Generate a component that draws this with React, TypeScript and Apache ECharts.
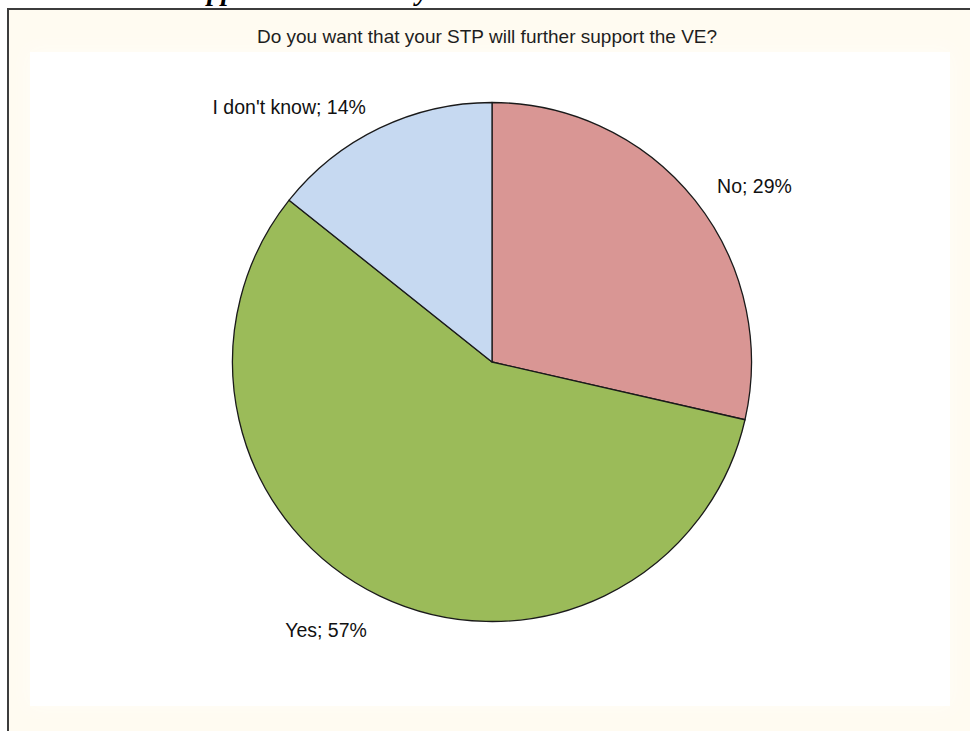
import React, { useEffect, useRef } from "react";
import * as echarts from "echarts";

const TITLE = "Do you want that your STP will further support the VE?";
const CATEGORIES = ["No", "Yes", "I don't know"];
const COUNTS = [2, 4, 1];
const COLORS = ["#D99694", "#9BBB59", "#C6D9F1"];
const HEADING = "Support to the STP by";

export default function App() {
  const ref = useRef<HTMLDivElement>(null);
  useEffect(() => {
    if (!ref.current) return;
    const chart = echarts.init(ref.current, null, { renderer: "svg" });
    const labelShift = [
      { dx: 0, dy: 0 },
      { dx: 2, dy: 14 },
      { dx: 1, dy: -1 },
    ];
    chart.setOption({
      animation: false,
      backgroundColor: "#ffffff",
      graphic: [
        {
          type: "text",
          x: 176,
          y: 4,
          z: 0,
          style: {
            text: HEADING,
            font: "italic bold 28px 'Liberation Serif', 'Times New Roman', serif",
            fill: "#000",
            verticalAlign: "bottom",
            align: "left",
          },
        },
        {
          type: "rect",
          z: -10,
          shape: { x: 8, y: 9, width: 1000, height: 1000 },
          style: { fill: "#FFFBF1", stroke: "#3c3c3c", lineWidth: 2 },
        },
        {
          type: "rect",
          z: -9,
          shape: { x: 30, y: 52, width: 920, height: 654 },
          style: { fill: "#ffffff", shadowBlur: 20, shadowColor: "#fffdf8" },
        },
      ],
      title: {
        text: TITLE,
        left: 482,
        top: 22,
        textAlign: "center",
        textStyle: {
          fontFamily: "'Liberation Sans', Arial, sans-serif",
          fontSize: 19,
          fontWeight: "normal",
          color: "#1e1e1e",
        },
      },
      series: [
        {
          type: "pie",
          center: [492, 362],
          radius: 259.5,
          startAngle: 90,
          clockwise: true,
          avoidLabelOverlap: false,
          data: CATEGORIES.map((name, i) => ({
            name,
            value: COUNTS[i],
            itemStyle: { color: COLORS[i] },
          })),
          itemStyle: { borderColor: "#1a1a1a", borderWidth: 1.3 },
          label: {
            show: true,
            position: "outside",
            formatter: (p: any) => `${p.name}; ${Math.round(p.percent)}%`,
            fontFamily: "'Liberation Sans', Arial, sans-serif",
            fontSize: 19.5,
            color: "#111",
            distanceToLabelLine: 5,
          },
          labelLine: { show: false, length: 22, length2: 0 },
          labelLayout: (p: any) => labelShift[p.dataIndex] || {},
          emphasis: { disabled: true },
        },
      ],
    });
    return () => chart.dispose();
  }, []);
  return (
    <div
      ref={ref}
      style={{ position: "fixed", left: 0, top: 0, width: 970, height: 731 }}
    />
  );
}
